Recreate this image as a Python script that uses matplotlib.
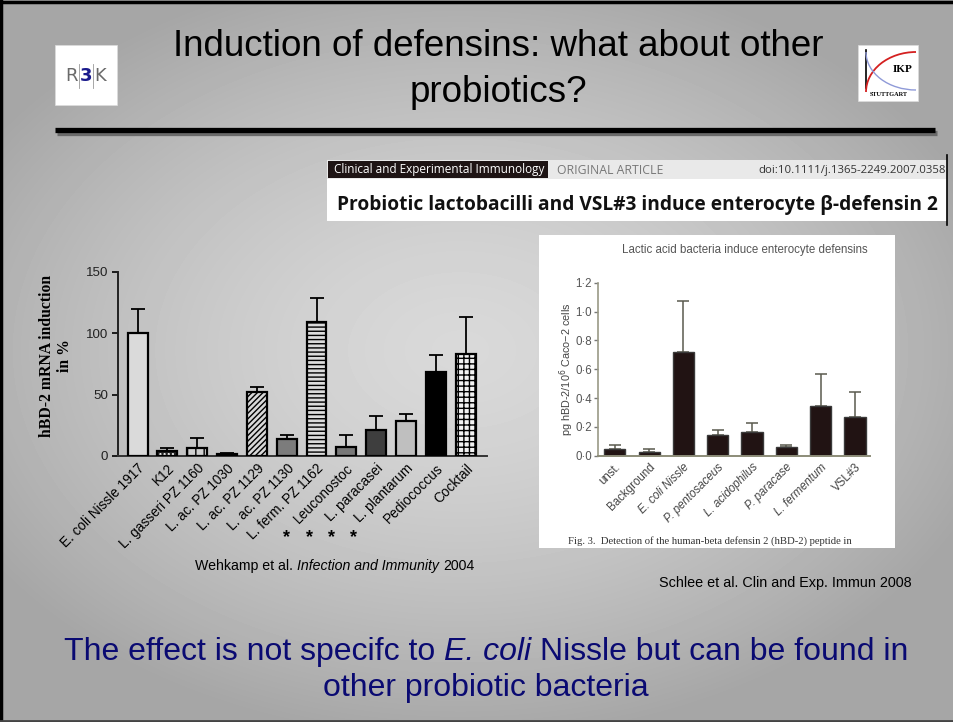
import numpy as np
import matplotlib
matplotlib.use("Agg")
import matplotlib.pyplot as plt
from matplotlib.patches import Rectangle, Arc

# ---- left chart data (Wehkamp et al. 2004) ----
left_labels = ["E. coli Nissle 1917", "K12", "L. gasseri PZ 1160", "L. ac. PZ 1030",
               "L. ac. PZ 1129", "L. ac. PZ 1130", "L. ferm. PZ 1162", "Leuconostoc",
               "L. paracasei", "L. plantarum", "Pediococcus", "Cocktail"]
left_values = [100, 4, 6.2, 1.6, 52, 13.6, 109, 7, 21, 28.3, 68, 83]
left_errors = [20, 2.8, 8.2, 0.6, 4, 3.4, 20, 9.8, 11.3, 5.7, 14, 30]
left_yticks = [0, 50, 100, 150]

# ---- right chart data (Schlee et al. 2008) ----
right_labels = ["unst.", "Background", "E. coli Nissle", "P. pentosaceus",
                "L. acidophilus", "P. paracase", "L. fermentum", "VSL#3"]
right_values = [0.045, 0.025, 0.72, 0.145, 0.165, 0.06, 0.345, 0.27]
right_errors = [0.027, 0.022, 0.355, 0.033, 0.06, 0.015, 0.225, 0.17]
right_yticks = [0.0, 0.2, 0.4, 0.6, 0.8, 1.0, 1.2]
right_yticklabels = ["0·0", "0·2", "0·4", "0·6", "0·8", "1·0", "1·2"]

W, H = 954, 722
fig = plt.figure(figsize=(W / 100, H / 100), dpi=100)

# slide layer, coordinates in pixels (y down)
slide = fig.add_axes([0, 0, 1, 1])
slide.set_xlim(0, W)
slide.set_ylim(H, 0)
slide.axis("off")

# gray radial background
yy, xx = np.mgrid[0:H, 0:W]
r = np.sqrt(((xx - 460) / 560.0) ** 2 + ((yy - 350) / 390.0) ** 2)
bg = 0.85 - 0.2 * np.clip(r, 0, 1) ** 1.5
slide.imshow(bg, cmap="gray", vmin=0, vmax=1, extent=(0, W, H, 0), zorder=0, aspect="auto")

# slide border
slide.plot([1.5, 1.5], [0, H], color="black", lw=2.5, zorder=5)
slide.plot([0, W], [1.5, 1.5], color="black", lw=2.5, zorder=5)
slide.plot([0, W], [H - 1.5, H - 1.5], color="#444444", lw=2, zorder=5)

TITLE_FONT = ["Liberation Sans", "DejaVu Sans"]

slide.text(498, 46, "Induction of defensins: what about other", ha="center", va="center",
           fontsize=26.5, family=TITLE_FONT, color="black", zorder=3)
slide.text(498, 92, "probiotics?", ha="center", va="center",
           fontsize=26.5, family=TITLE_FONT, color="black", zorder=3)

# rule under title (with shadow)
slide.plot([57, 937], [133, 133], color="#6a6a6a", lw=3.8, zorder=2, solid_capstyle="butt")
slide.plot([55, 935], [130, 130], color="black", lw=3.8, zorder=3, solid_capstyle="butt")

# left logo
slide.add_patch(Rectangle((55, 45), 62, 60, facecolor="white", edgecolor="#dddddd", lw=0.5, zorder=3))
slide.text(72, 76, "R", fontsize=13, family="DejaVu Sans", color="#6a6a6a", ha="center", va="center", zorder=4)
slide.text(86, 76, "3", fontsize=13, family="DejaVu Sans", color="#1a1a8c", ha="center", va="center",
           fontweight="bold", zorder=4)
slide.text(100, 76, "K", fontsize=13, family="DejaVu Sans", color="#6a6a6a", ha="center", va="center", zorder=4)
for lx in [79, 93]:
    slide.plot([lx, lx], [64, 88], color="#999999", lw=0.6, zorder=4)

# right logo
slide.add_patch(Rectangle((858, 45), 60, 56, facecolor="white", edgecolor="#dddddd", lw=0.5, zorder=3))
slide.plot([866, 866], [50, 88], color="black", lw=1.2, zorder=4)
slide.add_patch(Arc((916, 92), 100, 80, theta1=180, theta2=270, color="#d42020", lw=1.3, zorder=4))
slide.add_patch(Arc((916, 52), 100, 76, theta1=90, theta2=180, color="#8f9ad8", lw=1.0, zorder=4))
slide.text(903, 70, "IKP", fontsize=8, family="Liberation Serif", fontweight="bold", ha="center",
           va="center", zorder=5)
slide.text(889, 94, "STUTTGART", fontsize=4.5, family="Liberation Serif", fontweight="bold", ha="center",
           va="center", zorder=5)

# journal header
slide.add_patch(Rectangle((327, 160), 620, 61, facecolor="white", edgecolor="none", zorder=3))
slide.add_patch(Rectangle((327, 160), 620, 19, facecolor="#e9e9e9", edgecolor="none", zorder=3))
slide.add_patch(Rectangle((328, 161), 220, 17, facecolor="#1e1414", edgecolor="none", zorder=4))
slide.plot([947.5, 947.5], [155, 225], color="black", lw=1.2, zorder=4)
slide.text(439, 170, "Clinical and Experimental Immunology", fontsize=8.5, family="Open Sans",
           color="white", ha="center", va="center", zorder=5)
slide.text(557, 170, "ORIGINAL ARTICLE", fontsize=8.8, family="Open Sans", color="#777777",
           ha="left", va="center", zorder=5)
slide.text(946, 170, "doi:10.1111/j.1365-2249.2007.0358", fontsize=8.2, family="Open Sans",
           color="#333333", ha="right", va="center", zorder=5)
slide.text(337, 205, "Probiotic lactobacilli and VSL#3 induce enterocyte β-defensin 2", fontsize=13.8,
           family="Open Sans", fontweight="bold", color="#111111", ha="left", va="center", zorder=5)

# right figure panel (white image)
slide.add_patch(Rectangle((539, 235), 356, 313, facecolor="white", edgecolor="none", zorder=3))
slide.text(745, 250, "Lactic acid bacteria induce enterocyte defensins", fontsize=8.3, family="Liberation Sans",
           color="#555555", ha="center", va="center", zorder=5)
slide.text(568, 541, "Fig. 3.  Detection of the human-beta defensin 2 (hBD-2) peptide in", fontsize=7.7,
           family="Liberation Serif", color="#333333", ha="left", va="center", zorder=5)

renderer = fig.canvas.get_renderer()


def rich_text(x, y, parts, ha="center", **kw):
    items = [slide.text(0, y, s, fontstyle=st, va="center", ha="left", zorder=5, **kw) for s, st in parts]
    widths = [t.get_window_extent(renderer).width for t in items]
    start = x - sum(widths) / 2 if ha == "center" else x
    for t, w in zip(items, widths):
        t.set_x(start)
        start += w


rich_text(335, 566, [("Wehkamp et al. ", "normal"), ("Infection and Immunity ", "italic"), ("2004", "normal")],
          fontsize=10.2, family="Liberation Sans", color="black")
slide.text(912, 583, "Schlee et al. Clin and Exp. Immun 2008", fontsize=10.4, family="Liberation Sans",
           color="black", ha="right", va="center", zorder=5)

rich_text(486, 652, [("The effect is not specifc to ", "normal"), ("E. coli ", "italic"),
                     ("Nissle but can be found in", "normal")],
          fontsize=23, family=TITLE_FONT, color="#0a0a72")
slide.text(486, 688, "other probiotic bacteria", fontsize=23, family=TITLE_FONT, color="#0a0a72",
           ha="center", va="center", zorder=5)

# ---- left chart ----
axl = fig.add_axes([118 / W, 1 - 456 / H, 369 / W, 184.3 / H])
axl.patch.set_alpha(0)
bar_styles = [
    ("#dadada", "", "black"),
    ("#202020", "....", "white"),
    ("#d0d0d0", "||", "black"),
    ("#404040", "....", "#bbbbbb"),
    ("#d8d8d8", "//////", "black"),
    ("#7c7c7c", "", "black"),
    ("#dcdcdc", "----", "black"),
    ("#787878", "", "black"),
    ("#3e3e3e", "", "black"),
    ("#bfbfbf", "", "black"),
    ("#000000", "", "black"),
    ("#f2f2f2", "+++", "black"),
]
plt.rcParams["hatch.linewidth"] = 1.0
xl = np.arange(len(left_labels))
for i, (face, hatch, hcol) in enumerate(bar_styles):
    axl.bar(xl[i], left_values[i], 0.67, color=face, edgecolor=hcol, hatch=hatch, lw=0, zorder=2)
axl.bar(xl, left_values, 0.67, fill=False, edgecolor="black", lw=1.6, zorder=3)
axl.errorbar(xl, left_values, yerr=[np.zeros(len(xl)), left_errors], fmt="none", ecolor="black",
             elinewidth=1.3, capsize=5, capthick=1.3, zorder=1)
axl.set_xlim(-0.66, 11.72)
axl.set_ylim(0, 150)
axl.set_yticks(left_yticks)
axl.set_yticklabels([str(v) for v in left_yticks], fontsize=9.6, family="Liberation Sans", color="#222222")
axl.set_xticks(xl)
axl.set_xticklabels(left_labels, rotation=45, ha="right", rotation_mode="anchor", fontsize=9.8,
                    family="Liberation Sans", color="black")
axl.tick_params(axis="x", length=0, pad=4)
axl.tick_params(axis="y", length=4, width=1.2, direction="out", pad=3)
for s in ["top", "right"]:
    axl.spines[s].set_visible(False)
axl.spines["left"].set_linewidth(1.4)
axl.spines["bottom"].set_linewidth(1.4)
axl.spines["left"].set_color("#222222")
axl.spines["bottom"].set_color("#333333")
axl.set_ylabel("hBD-2 mRNA induction\nin %", fontsize=11.3, family="Liberation Serif", fontweight="bold",
               linespacing=1.2)
axl.yaxis.set_label_coords(-0.122, 0.545)

for sx in [287, 309.5, 332, 354]:
    slide.text(sx, 538, "*", fontsize=13, family="Liberation Sans", fontweight="bold", ha="center",
               va="center", zorder=5)

# ---- right chart ----
axr = fig.add_axes([597.7 / W, 1 - 455.7 / H, 272.3 / W, 173 / H])
axr.patch.set_alpha(0)
xr = np.arange(len(right_labels))
axr.bar(xr, right_values, 0.62, color="#211313", edgecolor="#3a3a3a", lw=1.0, zorder=2)
axr.errorbar(xr, right_values, yerr=[np.zeros(len(xr)), right_errors], fmt="none", ecolor="#5a5a4e",
             elinewidth=1.1, capsize=4.5, capthick=1.1, zorder=1)
axr.set_xlim(-0.5, 7.44)
axr.set_ylim(0, 1.2)
axr.set_yticks(right_yticks)
axr.set_yticklabels(right_yticklabels, fontsize=8.3, family="Liberation Sans", color="#555555")
axr.set_xticks(xr)
axr.set_xticklabels(right_labels, rotation=45, ha="right", rotation_mode="anchor", fontsize=8.3,
                    family="Liberation Sans", color="#444444")
for i, lab in enumerate(axr.get_xticklabels()):
    if 2 <= i <= 6:
        lab.set_fontstyle("italic")
axr.tick_params(axis="x", length=0, pad=4)
axr.tick_params(axis="y", length=3, width=1, direction="out", color="#777777", pad=1)
for s in ["top", "right"]:
    axr.spines[s].set_visible(False)
axr.spines["left"].set_color("#9a9a86")
axr.spines["bottom"].set_color("#8c8c78")
axr.spines["left"].set_linewidth(1.2)
axr.spines["bottom"].set_linewidth(1.4)
axr.set_ylabel("pg hBD-2/10$^6$ Caco\u22122 cells", fontsize=7.8, family="Liberation Sans", color="#444444")
axr.yaxis.set_label_coords(-0.08, 0.5)

fig.savefig("out.png", dpi=100)
